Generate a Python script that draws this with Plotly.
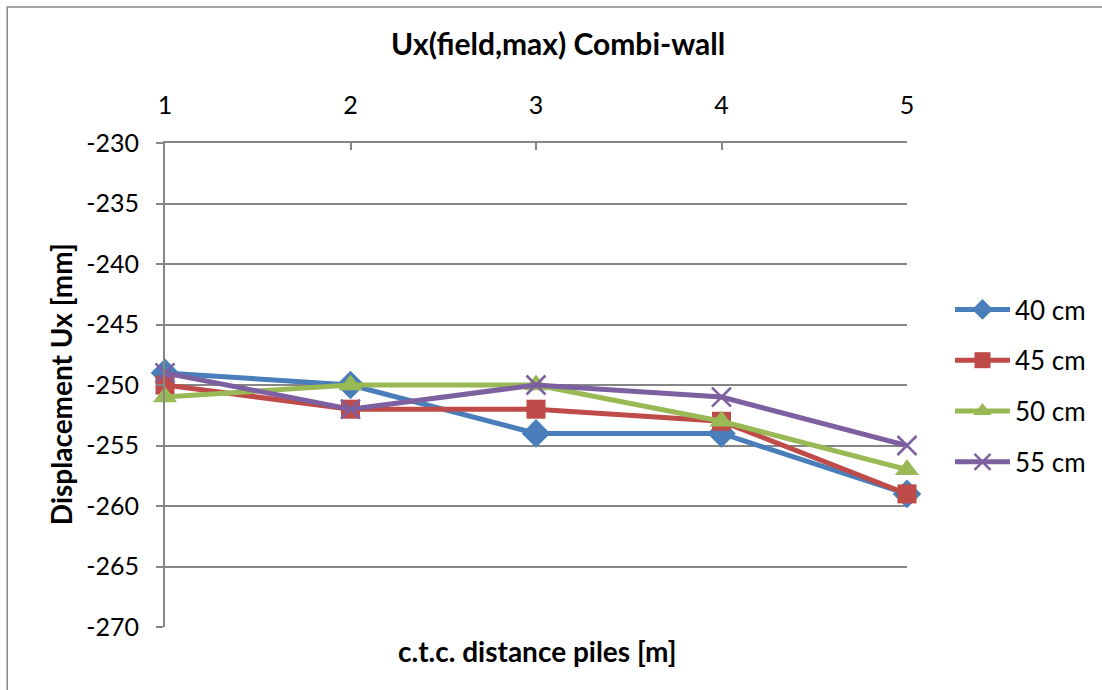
import plotly.graph_objects as go

# Pile centre-to-centre distance [m]
distance = [1, 2, 3, 4, 5]

# Maximum field displacement Ux [mm] per wall thickness
ux_40cm = [-249, -250, -254, -254, -259]
ux_45cm = [-250, -252, -252, -253, -259]
ux_50cm = [-251, -250, -250, -253, -257]
ux_55cm = [-249, -252, -250, -251, -255]

# Vertical axis ticks
y_ticks = [-230, -235, -240, -245, -250, -255, -260, -265, -270]
y_tick_labels = ["-230", "-235", "-240", "-245", "-250", "-255", "-260", "-265", "-270"]

series = [
    ("40 cm", ux_40cm, "#4A7EBB", "diamond", 22),
    ("45 cm", ux_45cm, "#BE4B48", "square", 19),
    ("50 cm", ux_50cm, "#98B954", "triangle-up", 21),
    ("55 cm", ux_55cm, "#7D60A0", "x-thin", 19),
]

FONT = "Lato, Carlito, Calibri, sans-serif"

fig = go.Figure()
for i, (name, vals, color, symbol, size) in enumerate(series):
    marker = dict(symbol=symbol, size=size, color=color,
                  line=dict(color=color, width=2.5 if symbol == "x-thin" else 0))
    fig.add_trace(go.Scatter(
        x=distance, y=vals, name=name, mode="lines+markers",
        line=dict(color=color, width=5),
        marker=marker, cliponaxis=False, legendgroup=f"g{i}",
    ))

# Plot area in pixels
L, R, T, B = 165, 908, 143, 627
W, H = 1102, 690
pw, ph = R - L, B - T


def px(x):
    return (x - L) / pw


def py(y):
    return (B - y) / ph


fig.update_layout(
    width=W, height=H,
    margin=dict(l=L, r=W - R, t=T, b=H - B, pad=0),
    paper_bgcolor="white", plot_bgcolor="white",
    font=dict(family=FONT, color="black", size=25),
    showlegend=True,
    legend=dict(x=1.0 + (950 - R) / pw, y=py(286), xanchor="left", yanchor="top",
                font=dict(size=26, family=FONT), tracegroupgap=14,
                itemwidth=55, bgcolor="rgba(0,0,0,0)"),
    xaxis=dict(
        range=[1, 5], side="top", tickmode="array", tickvals=distance,
        ticktext=[str(d) for d in distance],
        showgrid=False, showline=True, linecolor="#868686", linewidth=2,
        ticks="inside", ticklen=7, tickwidth=1.5, tickcolor="#868686",
        tickfont=dict(size=25, family=FONT), ticklabelstandoff=17,
        zeroline=False, mirror=False,
    ),
    yaxis=dict(
        range=[-270, -230], tickmode="array", tickvals=y_ticks,
        ticktext=y_tick_labels,
        showgrid=True, gridcolor="#868686", gridwidth=1.5,
        showline=True, linecolor="#868686", linewidth=2,
        ticks="outside", ticklen=7, tickwidth=1.5, tickcolor="#868686",
        tickfont=dict(size=25, family=FONT), ticklabelstandoff=12,
        zeroline=False,
    ),
    annotations=[
        dict(text="<b>Ux(field,max) Combi-wall</b>", x=px(559), y=py(43),
             xref="paper", yref="paper", showarrow=False,
             xanchor="center", yanchor="middle",
             font=dict(size=30, family=FONT)),
        dict(text="<b>Displacement Ux [mm]</b>", x=px(61), y=py(384),
             xref="paper", yref="paper", showarrow=False, textangle=-90,
             xanchor="center", yanchor="middle",
             font=dict(size=28, family=FONT)),
        dict(text="<b>c.t.c. distance piles [m]</b>", x=px(538), y=py(651),
             xref="paper", yref="paper", showarrow=False,
             xanchor="center", yanchor="middle",
             font=dict(size=28, family=FONT)),
    ],
    shapes=[
        dict(type="rect", xref="paper", yref="paper",
             x0=px(7), x1=px(1130), y0=py(7), y1=py(720),
             line=dict(color="#868686", width=1.5), fillcolor="rgba(0,0,0,0)",
             layer="below"),
    ],
)

fig.write_html("out.html")
